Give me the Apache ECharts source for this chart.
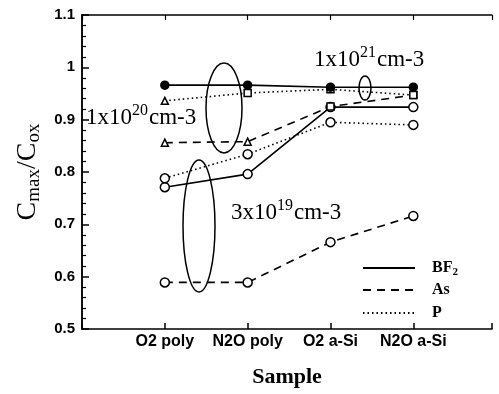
<!DOCTYPE html>
<html><head><meta charset="utf-8">
<script src="https://cdn.jsdelivr.net/npm/echarts@6/dist/echarts.min.js"></script>
<style>html,body{margin:0;padding:0;background:#fff}#c{width:499px;height:394px}</style>
</head><body><div id="c"></div>
<script>
const categories = ['O2 poly', 'N2O poly', 'O2 a-Si', 'N2O a-Si'];
const yMin = 0.5, yMax = 1.1, yStep = 0.1;
// 3x10^19 cm-3 group
const bf2Low = [0.771, 0.796, 0.924, 0.924];
const pLow = [0.788, 0.834, 0.895, 0.890];
const asLow = [0.589, 0.589, 0.666, 0.716];
// higher-dose group
const bf2High = [0.966, 0.966, 0.962, 0.962];
const pHigh = [0.936, 0.951, 0.958, 0.947];
const asHigh = [0.856, 0.858, 0.925, 0.947];
const legendNames = ['BF{s|2}', 'As', 'P'];

const toXY = arr => arr.map((v, i) => [i + 1, v]);
const serif = '"Liberation Serif", "DejaVu Serif", serif';
const sans = '"Liberation Sans", Arial, sans-serif';

function mk(name, vals, type, symbol, filled, size) {
  return {
    name, type: 'line', data: toXY(vals),
    symbol, symbolSize: size || 8,
    lineStyle: { color: '#000', width: 1.6, type: type === 'dashed' ? [8, 6] : type === 'dotted' ? [1.5, 3] : 'solid' },
    itemStyle: { color: filled ? '#000' : '#fff', borderColor: '#000', borderWidth: 1.5 },
    emphasis: { disabled: true }, animation: false, z: 3
  };
}
const triRect = n => (v, p) => (p.dataIndex < n ? 'triangle' : 'rect');

const chart = echarts.init(document.getElementById('c'), null, { renderer: 'canvas' });
const option = {
  backgroundColor: '#fff',
  animation: false,
  grid: { left: 82, right: 7, top: 15, bottom: 65, containLabel: false },
  xAxis: [{
    type: 'value', min: 0, max: 4.95, interval: 1,
    axisLine: { lineStyle: { color: '#000', width: 1.5 } },
    axisTick: { inside: true, length: 6, lineStyle: { color: '#000', width: 1.5 } },
    splitLine: { show: false },
    axisLabel: { margin: 5, color: '#000', fontFamily: sans, fontWeight: 'bold', fontSize: 16,
      formatter: v => (Number.isInteger(v) && v >= 1 && v <= categories.length ? categories[v - 1] : '') },
    name: 'Sample', nameLocation: 'middle', nameGap: 37,
    nameTextStyle: { fontFamily: serif, fontWeight: 'bold', fontSize: 22, color: '#000' }
  }, {
    type: 'value', position: 'top', min: 0, max: 4.95, interval: 1,
    axisLine: { lineStyle: { color: '#000', width: 1.5 } },
    axisTick: { inside: true, length: 5, lineStyle: { color: '#000', width: 1.2 } },
    axisLabel: { show: false }, splitLine: { show: false }
  }],
  yAxis: [{
    type: 'value', min: yMin, max: yMax, interval: yStep,
    axisLine: { show: true, lineStyle: { color: '#000', width: 1.5 } },
    axisTick: { show: true, inside: true, length: 7, lineStyle: { color: '#000', width: 1.5 } },
    minorTick: { show: true, splitNumber: 5, length: 4, lineStyle: { color: '#000', width: 1.2 } },
    splitLine: { show: false },
    axisLabel: { margin: 7, color: '#000', fontFamily: sans, fontWeight: 'bold', fontSize: 15,
      formatter: v => String(+v.toFixed(1)) },
    name: 'C{s|max}/C{s|ox}', nameLocation: 'middle', nameRotate: 90, nameGap: 30,
    nameTextStyle: { fontFamily: serif, fontSize: 28, color: '#000',
      rich: { s: { fontFamily: serif, fontSize: 19, color: '#000', padding: [12, 0, 0, 0] } } }
  }, {
    type: 'value', position: 'right', min: yMin, max: yMax, interval: yStep,
    axisLine: { show: true, lineStyle: { color: '#000', width: 1.5 } },
    axisTick: { show: false }, axisLabel: { show: false }, splitLine: { show: false }
  }],
  series: [
    mk('BF2 3e19', bf2Low, 'solid', 'circle', false, 9),
    mk('P 3e19', pLow, 'dotted', 'circle', false, 9),
    mk('As 3e19', asLow, 'dashed', 'circle', false, 9),
    mk('As high', asHigh, 'dashed', triRect(2), false, 7),
    mk('P high', pHigh, 'dotted', triRect(1), false, 7),
    mk('BF2 high', bf2High, 'solid', 'circle', true, 8)
  ],
  graphic: []
};
chart.setOption(option);

const rich = {
  m: { fontFamily: serif, fontSize: 23, color: '#000', verticalAlign: 'bottom', lineHeight: 27 },
  u: { fontFamily: serif, fontSize: 16, color: '#000', verticalAlign: 'top', lineHeight: 27, padding: [0, 1, 9, 0] }
};
const ellipses = [[224, 108, 18, 45], [199, 226, 16, 66], [365, 88, 6, 12]];
const texts = [
  [86, 116, '{m|1x10}{u|20}{m|cm-3}'],
  [314, 58, '{m|1x10}{u|21}{m|cm-3}'],
  [231, 211, '{m|3x10}{u|19}{m|cm-3}']
];
const legendTypes = ['solid', [8, 6], [1.5, 3]];
const g = [];
ellipses.forEach(e => g.push({ type: 'ellipse', shape: { cx: e[0], cy: e[1], rx: e[2], ry: e[3] },
  style: { fill: null, stroke: '#000', lineWidth: 1.5 }, z: 10 }));
texts.forEach(t => g.push({ type: 'text', x: t[0], y: t[1],
  style: { text: t[2], rich, verticalAlign: 'middle', align: 'left', fill: '#000' }, z: 10 }));
legendNames.forEach((n, i) => {
  const y = [268, 290, 313][i];
  g.push({ type: 'line', shape: { x1: 363, y1: y, x2: 415, y2: y },
    style: { stroke: '#000', lineWidth: i === 0 ? 1.8 : 2, lineDash: i === 0 ? null : legendTypes[i] }, z: 10 });
  g.push({ type: 'text', x: 432, y: y, style: { text: n, fill: '#000',
    fontFamily: serif, fontWeight: 'bold', fontSize: 16, verticalAlign: 'middle',
    rich: { s: { fontFamily: serif, fontWeight: 'bold', fontSize: 11, padding: [8, 0, 0, 0] } } }, z: 10 });
});
chart.setOption({ graphic: g });
</script></body></html>
